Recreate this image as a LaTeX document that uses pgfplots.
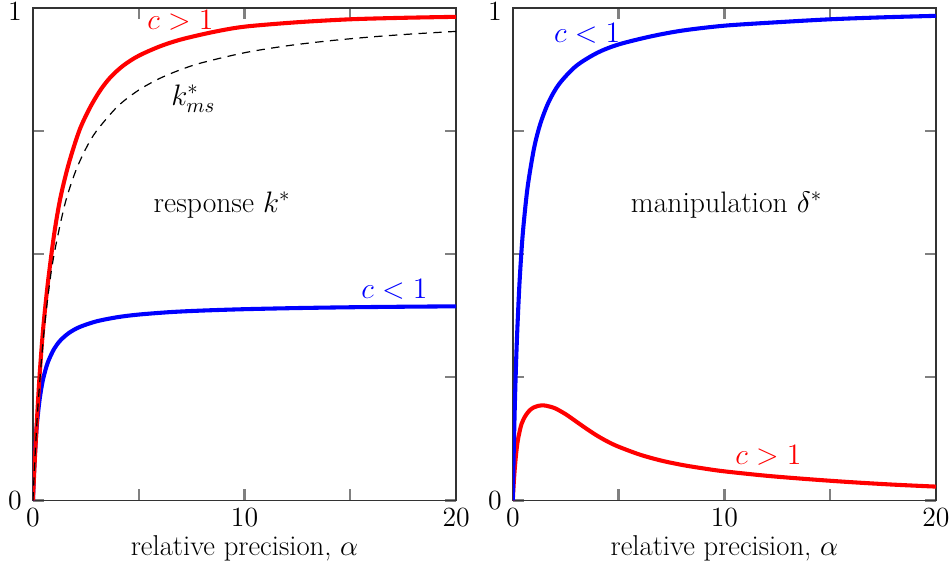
\RequirePackage{fix-cm}
\documentclass[border=0pt]{standalone}
\usepackage{pgfplots}
\pgfplotsset{compat=1.18}
\definecolor{tickgray}{RGB}{128,128,128}
\newcommand{\labf}{\fontsize{15}{18}\selectfont}
\newcommand{\xlabf}{\fontsize{15.5}{18.5}\selectfont}
\newcommand{\annf}{\fontsize{16}{19}\selectfont}
\begin{document}
\begin{tikzpicture}[font=\labf]
\pgfplotsset{
  myaxis/.style={
    scale only axis, width=228.6pt, height=266pt,
    xmin=0, xmax=20, ymin=0, ymax=1,
    xtick={0,5,10,15,20},
    xticklabels={$0$,,$10$,,$20$},
    ytick={0,0.25,0.5,0.75,1},
    yticklabels={$0$,,,,\raisebox{-6.8pt}[0pt][0pt]{$1$}},
    tick align=inside,
    major tick length=6pt,
    tick style={draw=tickgray, line width=1.2pt},
    axis line style={black!80, line width=0.8pt},
    every tick label/.append style={font=\labf},
    every axis label/.append style={font=\xlabf},
    xticklabel style={anchor=center, yshift=-9.2pt},
    yticklabel style={anchor=center, xshift=-9.7pt},
    xlabel={relative precision, $\alpha$},
    xlabel style={at={(axis description cs:0.5,0)}, anchor=center, yshift=-26pt},
  },
  redline/.style={color=red, line width=2.2pt, smooth, tension=0.5, no markers},
  blueline/.style={color=blue, line width=2.2pt, smooth, tension=0.5, no markers},
}
\begin{axis}[myaxis, name=left]
\addplot[blueline] coordinates {
(0,0) (0.02,0.025) (0.05,0.0571) (0.1,0.1) (0.15,0.1333) (0.2,0.16) (0.3,0.2)
(0.4,0.2286) (0.5,0.25) (0.7,0.28) (1,0.3077) (1.3,0.325) (1.7,0.34) (2.2,0.352)
(3,0.3636) (4,0.3721) (5,0.3774) (6.5,0.3824) (8,0.3855) (10,0.3883) (12.5,0.3906)
(15,0.3922) (17.5,0.3933) (20,0.3941)};
\addplot[redline] coordinates {
(0,0) (0.05,0.048) (0.1,0.092) (0.2,0.172) (0.3,0.245) (0.4,0.305) (0.5,0.357)
(0.7,0.44) (1.0,0.54) (1.3,0.615) (1.7,0.685) (2.2,0.752) (2.7,0.798) (3.2,0.834)
(3.7,0.861) (4.3,0.884) (5.0,0.903) (6.0,0.922) (7.0,0.936) (8.5,0.951) (10,0.962)
(12.5,0.971) (15,0.977) (17.5,0.980) (20,0.982)};
\addplot[black, line width=0.65pt, dash pattern=on 4.5pt off 3.5pt, smooth, tension=0.5, no markers] coordinates {
(0,0) (0.1,0.0909) (0.25,0.2) (0.5,0.3333) (0.75,0.4286) (1,0.5) (1.5,0.6) (2,0.6667)
(2.5,0.7143) (3,0.75) (4,0.8) (5,0.8333) (6,0.8571) (7,0.875) (8,0.8889) (10,0.9091)
(12,0.9231) (14,0.9333) (16,0.9412) (18,0.9474) (20,0.9524)};
\node[red, anchor=center, font=\annf] at (axis cs:6.97,0.974) {$c>1$};
\node[black, anchor=center, font=\annf] at (axis cs:7.58,0.816) {$k^*_{ms}$};
\node[black, anchor=center, font=\annf] at (axis cs:8.94,0.600) {response $k^*$};
\node[blue, anchor=center, font=\annf] at (axis cs:17.08,0.428) {$c<1$};
\end{axis}
\begin{axis}[myaxis, name=right, at={(259.2pt,0)}]
\addplot[redline] coordinates {
(0,0) (0.03,0.025) (0.06,0.045) (0.1,0.068) (0.17,0.10) (0.25,0.125) (0.41,0.155)
(0.6,0.172) (0.8,0.183) (1.0,0.189) (1.2,0.192) (1.45,0.193) (1.7,0.191) (2.0,0.187)
(2.5,0.175) (3.0,0.160) (3.5,0.145) (4.0,0.131) (4.5,0.119) (5.0,0.109) (6.0,0.093)
(7.0,0.081) (8.0,0.072) (9.0,0.065) (10,0.059) (12,0.050) (14,0.043) (16,0.037)
(18,0.032) (20,0.028)};
\addplot[blueline] coordinates {
(0,0) (0.02,0.0476) (0.05,0.111) (0.1,0.2) (0.15,0.273) (0.2,0.333) (0.3,0.4286)
(0.4,0.5) (0.5,0.5556) (0.7,0.6364) (1,0.7143) (1.3,0.7647) (1.7,0.8095) (2.2,0.8462)
(3,0.8824) (4,0.9091) (5,0.9259) (6.5,0.9420) (8,0.954) (10,0.964) (12.5,0.971)
(15,0.977) (17.5,0.981) (20,0.984)};
\node[blue, anchor=center, font=\annf] at (axis cs:3.51,0.948) {$c<1$};
\node[black, anchor=center, font=\annf] at (axis cs:10.1,0.600) {manipulation $\delta^*$};
\node[red, anchor=center, font=\annf] at (axis cs:12.08,0.0915) {$c>1$};
\end{axis}
\pgfresetboundingbox
\path ([shift={(-17.8pt,-35.1pt)}]left.south west) rectangle ([shift={(8.1pt,4.3pt)}]right.north east);
\end{tikzpicture}
\end{document}
